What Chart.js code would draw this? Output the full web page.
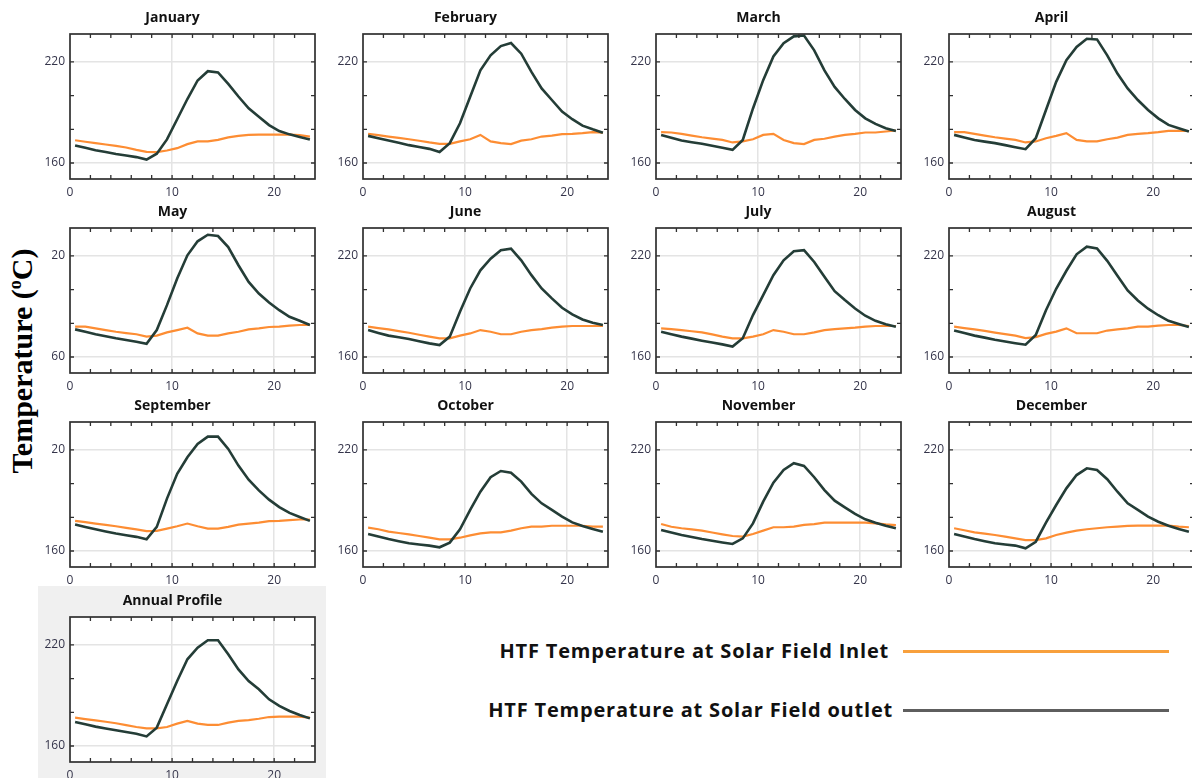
<!DOCTYPE html>
<html>
<head>
<meta charset="utf-8">
<script src="https://cdn.jsdelivr.net/npm/chart.js@4.4.1/dist/chart.umd.min.js"></script>
<style>
  html, body { margin: 0; padding: 0; background: #fff; }
  body { width: 1192px; height: 778px; position: relative; overflow: hidden; font-family: "Open Sans", sans-serif; }
  canvas { position: absolute; }
  #annual-bg { position: absolute; left: 38px; top: 586px; width: 288px; height: 192px; background: #f0f0f0; }
  #ytitle { position: absolute; left: 0; top: 236px; width: 52px; height: 244px; background: #fff; z-index: 5; }
  #ytitle span {
    position: absolute; left: 22px; top: 125px; white-space: nowrap;
    transform: translate(-50%, -50%) rotate(-90deg);
    font: bold 30px "Liberation Serif", "Times New Roman", serif; color: #000;
  }
  #ytitle sup { font-size: 60%; line-height: 0; }
  .leg-text { position: absolute; font: bold 20px "Open Sans", sans-serif; letter-spacing: 0.8px; color: #111; white-space: nowrap; line-height: 26px; }
  .leg-line { position: absolute; height: 3px; }
</style>
</head>
<body>
<div id="annual-bg"></div>
<div id="panels"></div>
<div id="ytitle"><span>Temperature (<sup>o</sup>C)</span></div>

<div class="leg-text" style="right:303px; top:638px;">HTF Temperature at Solar Field Inlet</div>
<div class="leg-line" style="left:903px; top:650px; width:266px; background:#f8a03c;"></div>
<div class="leg-text" style="right:299px; top:697px;">HTF Temperature at Solar Field outlet</div>
<div class="leg-line" style="left:903px; top:709px; width:266px; background:#5e5e5e;"></div>

<script>
// hour of day (mid-hour)
const HOURS = [0.5, 1.5, 2.5, 3.5, 4.5, 5.5, 6.5, 7.5, 8.5, 9.5, 10.5, 11.5,
  12.5, 13.5, 14.5, 15.5, 16.5, 17.5, 18.5, 19.5, 20.5, 21.5, 22.5, 23.5];

const TITLES = ["January", "February", "March", "April", "May", "June", "July",
  "August", "September", "October", "November", "December", "Annual Profile"];

const X_LABELS = [0, 10, 20];
const Y_LABELS = [160, 220];

// HTF temperature at solar field outlet (°C)
const JAN_OUT = [170.4, 169, 167.6, 166.5, 165.3, 164.5, 163.5, 162, 165.5, 174, 186, 198, 209, 214.5, 213.8, 207, 199.5, 192.5, 187.5, 182.5, 179, 177, 175.5, 174];
const FEB_OUT = [176.1, 174.7, 173.3, 172, 170.6, 169.5, 168.4, 166.5, 171.8, 183.6, 199.3, 215, 223.9, 229.4, 231.2, 224.9, 214.1, 204.3, 197.4, 190.5, 186, 182.2, 180, 178];
const MAR_OUT = [176.7, 175, 173.3, 172.3, 171.4, 170.2, 169, 167.8, 173.7, 192.4, 209.2, 223.3, 231.2, 235.2, 235.7, 226.9, 215, 205.2, 198, 191.5, 186.5, 183.2, 180.6, 179];
const APR_OUT = [176.7, 175.2, 173.7, 172.7, 171.8, 170.6, 169.4, 168.2, 174.7, 191.5, 208.2, 221, 228.9, 233.8, 233.4, 223.9, 213.1, 204.3, 197.4, 191.5, 186.5, 182.6, 180.6, 178.7];
const MAY_OUT = [176.4, 175, 173.5, 172.3, 171.1, 170.1, 169.1, 167.9, 176, 190.8, 206.6, 220.4, 228.7, 232.6, 231.8, 225.3, 214.5, 204.6, 197.7, 192.4, 187.8, 183.9, 181.5, 179];
const JUN_OUT = [176, 174.3, 172.7, 171.7, 170.7, 169.4, 168.1, 167.1, 172.1, 186.9, 200.7, 211.5, 218.4, 223.4, 224.3, 217.4, 208.6, 200.7, 194.8, 189.2, 185.3, 182.3, 180.4, 179];
const JUL_OUT = [175, 173.5, 172.1, 170.9, 169.7, 168.6, 167.5, 166.2, 171.1, 184.9, 196.7, 208.6, 217.4, 222.8, 223.4, 216.4, 207.6, 199.1, 193.8, 188.8, 184.5, 181.5, 179.4, 178];
const AUG_OUT = [175.7, 174.2, 172.7, 171.5, 170.2, 169.2, 168.2, 167.3, 173.1, 187.8, 200.5, 211.2, 221, 225.5, 224.5, 217.1, 208.3, 199.5, 193.6, 188.7, 184.8, 181.5, 179.6, 177.8];
const SEP_OUT = [175.7, 174.3, 172.9, 171.6, 170.4, 169.4, 168.4, 166.9, 174.3, 191.1, 205.8, 215.7, 223.5, 227.9, 227.9, 220.6, 210.7, 202.3, 196, 190.5, 186.1, 182.6, 180.2, 177.9];
const OCT_OUT = [170.1, 168.6, 167.1, 165.8, 164.6, 163.9, 163.2, 162.2, 165, 172.9, 184.4, 195.2, 203.8, 207.5, 206.5, 201.2, 193.9, 188.3, 184.4, 180.4, 177, 174.9, 173.1, 171.5];
const NOV_OUT = [172.5, 171, 169.5, 168.3, 167.1, 166.1, 165.1, 164.2, 167.5, 176.4, 189.3, 200.6, 208.1, 212.1, 210.5, 203.8, 196.2, 189.9, 185.9, 182, 178.8, 176.8, 175, 173.5];
const DEC_OUT = [170.1, 168.6, 167.1, 165.8, 164.6, 163.9, 163.2, 161.6, 165.5, 176.8, 187.3, 197.2, 205.1, 209.1, 208.1, 202.6, 195.2, 188.3, 184.4, 180.4, 177.4, 175, 173.1, 171.5];
const ANN_OUT = [174.3, 172.9, 171.5, 170.4, 169.3, 168.3, 167.3, 165.7, 170.9, 184.8, 198.6, 211.5, 218.4, 222.8, 222.8, 214.5, 205.5, 198.6, 193.7, 187.7, 183.8, 180.8, 178.4, 176.4];

// HTF temperature at solar field inlet (°C)
const JAN_IN = [173.5, 172.6, 171.8, 171, 170.2, 169.2, 167.8, 166.6, 166.5, 167.4, 168.8, 171.2, 172.8, 172.8, 173.7, 175.2, 176.1, 176.7, 176.9, 176.9, 176.9, 176.9, 176.5, 175.7];
const FEB_IN = [177.3, 176.5, 175.7, 174.9, 174.1, 173.2, 172.2, 171.4, 171.4, 172.8, 174.1, 176.7, 172.8, 171.8, 171.2, 173.3, 174.1, 175.7, 176.3, 177.1, 177.3, 177.7, 178.3, 178];
const MAR_IN = [178.3, 178.1, 177.3, 176.3, 175.3, 174.5, 173.7, 172.2, 172.8, 174.1, 176.7, 177.3, 173.7, 171.8, 171.2, 173.7, 174.4, 175.7, 176.7, 177.3, 178.1, 178.1, 178.7, 179.3];
const APR_IN = [178.3, 178.3, 177.3, 176.3, 175.3, 174.5, 173.7, 172.2, 172.8, 174.7, 176.1, 177.7, 173.7, 172.8, 172.8, 174.1, 175.1, 176.7, 177.3, 177.7, 178.3, 179.1, 179.1, 179];
const MAY_IN = [178, 178, 177, 176, 175, 174.2, 173.5, 172.1, 172.7, 174.6, 176, 177.4, 174, 172.7, 172.7, 174, 175, 176.4, 177, 177.8, 178, 178.6, 179, 179];
const JUN_IN = [178, 177.2, 176.4, 175.4, 174.4, 173.2, 172.1, 171.1, 171.1, 172.7, 174, 176, 175, 173.5, 173.5, 175, 176, 176.6, 177.4, 178, 178.4, 178.4, 178.4, 178.4];
const JUL_IN = [177, 176.5, 176, 175.3, 174.6, 173.4, 172.1, 171.1, 171.1, 172.1, 173.5, 176, 175, 173.5, 173.5, 174.6, 176, 176.6, 177, 177.4, 178, 178.4, 178.4, 178.4];
const AUG_IN = [178, 177.2, 176.4, 175.5, 174.5, 173.6, 172.7, 171.2, 171.8, 173.7, 175.1, 177, 174.1, 174.1, 174.1, 175.7, 176.4, 177, 178, 178, 178.6, 179, 179, 178.4];
const SEP_IN = [177.9, 177.1, 176.3, 175.5, 174.7, 173.7, 172.8, 171.8, 172, 173.3, 174.7, 176.3, 174.7, 173.3, 173.3, 174.3, 175.7, 176.3, 176.9, 177.7, 177.9, 178.3, 178.7, 178.7];
const OCT_IN = [173.9, 172.9, 171.5, 170.7, 169.9, 168.9, 167.9, 166.9, 166.9, 167.9, 169.3, 170.5, 171.1, 171.1, 172.1, 173.5, 174.5, 174.5, 175, 175, 175, 175, 174.5, 174.5];
const NOV_IN = [176, 174.4, 173.5, 172.8, 172.1, 171, 169.9, 168.9, 168.5, 170.1, 172.1, 174.1, 174.1, 174.5, 175.5, 176, 176.8, 176.8, 176.8, 176.8, 176.8, 176.4, 175.8, 175.4];
const DEC_IN = [173.5, 172.3, 171.1, 170.3, 169.5, 168.5, 167.5, 166.5, 166.5, 167.5, 169.5, 170.9, 172.1, 172.9, 173.5, 174.1, 174.5, 174.9, 175.1, 175.1, 175.1, 175.1, 174.5, 174.1];
const ANN_IN = [176.8, 176, 175.2, 174.4, 173.5, 172.4, 171.3, 170.5, 170.5, 171.3, 173.3, 174.9, 173.3, 172.5, 172.5, 173.9, 174.9, 175.4, 176.2, 177.2, 177.4, 177.4, 177.4, 176.8];

const OUTLETS = [JAN_OUT, FEB_OUT, MAR_OUT, APR_OUT, MAY_OUT, JUN_OUT, JUL_OUT, AUG_OUT, SEP_OUT, OCT_OUT, NOV_OUT, DEC_OUT, ANN_OUT];
const INLETS = [JAN_IN, FEB_IN, MAR_IN, APR_IN, MAY_IN, JUN_IN, JUL_IN, AUG_IN, SEP_IN, OCT_IN, NOV_IN, DEC_IN, ANN_IN];

// layout of the small multiples (plot-area left / top)
const COL_LEFT = [70, 363, 656, 949];
const ROW_TOP = [34, 228, 422, 617];

const INLET_COLOR = "#fd8d33";
const OUTLET_COLOR = "#243d37";
const GRID_COLOR = "#e4e4e4";
const TICK_COLOR = "#34344a";

Chart.defaults.font.family = "'Open Sans', sans-serif";

const panelBox = {
  id: "panelBox",
  beforeDraw(chart) {
    const { ctx, chartArea: a } = chart;
    ctx.save();
    ctx.fillStyle = "#fff";
    ctx.fillRect(a.left, a.top, a.width, a.height);
    ctx.restore();
  },
  afterDraw(chart) {
    const { ctx, chartArea: a, scales } = chart;
    ctx.save();
    ctx.strokeStyle = "#303030";
    ctx.lineWidth = 1.7;
    ctx.strokeRect(a.left, a.top, a.width, a.height);
    ctx.lineWidth = 1.3;
    ctx.beginPath();
    scales.x.ticks.forEach((t) => {
      if (t.value <= 0 || t.value >= 24) return;
      const px = scales.x.getPixelForValue(t.value);
      ctx.moveTo(px, a.top); ctx.lineTo(px, a.top + 4);
      ctx.moveTo(px, a.bottom); ctx.lineTo(px, a.bottom - 4);
    });
    scales.y.ticks.forEach((t) => {
      const py = scales.y.getPixelForValue(t.value);
      ctx.moveTo(a.left, py); ctx.lineTo(a.left + 4, py);
      ctx.moveTo(a.right, py); ctx.lineTo(a.right - 4, py);
    });
    ctx.stroke();
    ctx.restore();
  },
};

function toPoints(values) {
  return HOURS.map((h, i) => ({ x: h, y: values[i] }));
}

function makePanel(i) {
  const col = i % 4;
  const row = Math.floor(i / 4);
  const canvas = document.createElement("canvas");
  canvas.width = 303;
  canvas.height = 197;
  canvas.style.left = COL_LEFT[col] - 40 + "px";
  canvas.style.top = ROW_TOP[row] - 30 + "px";
  document.getElementById("panels").appendChild(canvas);

  new Chart(canvas, {
    type: "line",
    data: {
      datasets: [
        {
          label: "HTF Temperature at Solar Field outlet",
          data: toPoints(OUTLETS[i]),
          borderColor: OUTLET_COLOR,
          borderWidth: 2.6,
          pointRadius: 0,
          tension: 0,
        },
        {
          label: "HTF Temperature at Solar Field Inlet",
          data: toPoints(INLETS[i]),
          borderColor: INLET_COLOR,
          borderWidth: 2.2,
          pointRadius: 0,
          tension: 0,
        },
      ],
    },
    options: {
      responsive: false,
      animation: false,
      layout: { padding: { left: 0, right: 18, top: 0, bottom: 0 } },
      plugins: {
        legend: { display: false },
        tooltip: { enabled: false },
        title: {
          display: true,
          text: TITLES[i],
          color: "#111",
          font: { size: 14, weight: "bold", lineHeight: "16px" },
          padding: { top: 6, bottom: 8 },
        },
      },
      scales: {
        x: {
          type: "linear",
          min: 0,
          max: 24,
          afterFit: (s) => { s.height = 22; },
          border: { display: false },
          grid: {
            drawTicks: false,
            lineWidth: 1.5,
            color: (c) => (c.tick && (c.tick.value === 10 || c.tick.value === 20) ? GRID_COLOR : "transparent"),
          },
          ticks: {
            stepSize: 2,
            autoSkip: false,
            maxRotation: 0,
            padding: 6,
            color: TICK_COLOR,
            font: { size: 12 },
            callback: (v) => (X_LABELS.includes(v) ? String(v) : ""),
          },
        },
        y: {
          min: 150.5,
          max: 236.6,
          afterFit: (s) => { s.width = 40; },
          border: { display: false },
          grid: {
            drawTicks: false,
            lineWidth: 1.5,
            color: (c) => (c.tick && Y_LABELS.includes(c.tick.value) ? GRID_COLOR : "transparent"),
          },
          ticks: {
            stepSize: 20,
            includeBounds: false,
            padding: 5,
            color: TICK_COLOR,
            font: { size: 12 },
            callback: (v) => (Y_LABELS.includes(v) ? String(v) : ""),
          },
        },
      },
    },
    plugins: [panelBox],
  });
}

TITLES.forEach((_, i) => makePanel(i));
</script>
</body>
</html>
